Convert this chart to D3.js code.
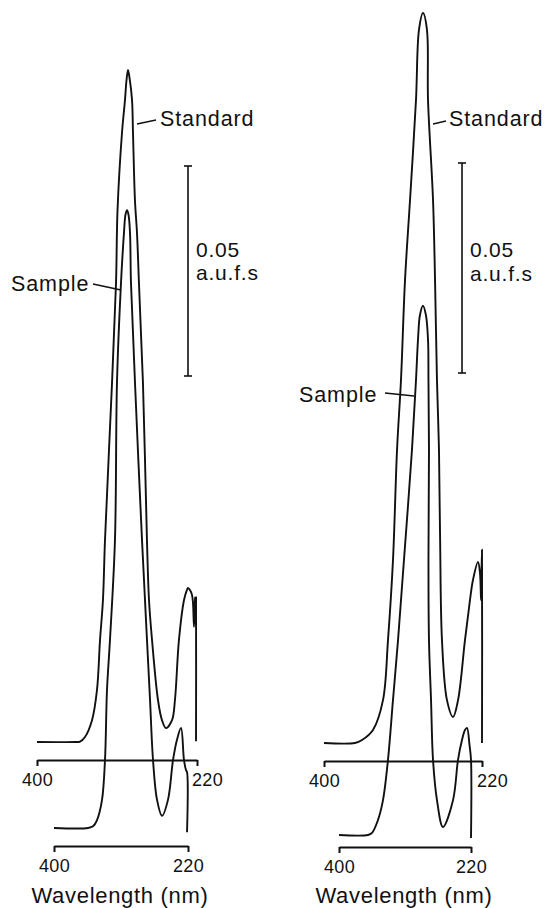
<!DOCTYPE html>
<html><head><meta charset="utf-8">
<script src="https://cdn.jsdelivr.net/npm/d3@7"></script>
<style>body{margin:0;background:#fff}svg{display:block}</style>
</head><body>
<svg id="chart" width="544" height="908"></svg>
<script>
// ---- data: [wavelength (nm), absorbance (AU)] ----
const tickLabels = [400, 220];
const scaleBarValue = 0.05;
const scaleBarLabel = ["0.05", "a.u.f.s"];
const axisTitle = "Wavelength (nm)";
const seriesNames = ["Standard", "Sample"];

const leftStandard = [
 [400,0],[357.2,0],[351.6,0.0001],[346,0.0012],[338.1,0.0052],[332.5,0.0124],[329.1,0.0243],
 [325.8,0.0338],[323.5,0.0481],[315.6,0.0855],[311.1,0.1093],[309.4,0.1267],[304.4,0.145],
 [301,0.1529],[299.3,0.1576],[297.6,0.16],[295.9,0.1581],[293.1,0.1529],[292,0.145],
 [289.8,0.129],[287.5,0.1212],[285.3,0.1093],[280.8,0.0855],[276.3,0.0481],[274,0.0338],
 [270.6,0.0243],[263.9,0.01],[259.4,0.0052],[254.9,0.0033],[248.1,0.0052],[244.8,0.01],
 [240.3,0.0243],[234.6,0.0338],[231.3,0.0362],[230.1,0.0367],[227.9,0.0362],[225.6,0.035],
 [224.5,0.0331],[223.4,0.0274],[222.3,0.0345],[221.7,0.0279],[221.1,0.0345],[221.1,0.0002]
];
const leftSample = [
 [400,0],[354.3,0],[347.6,0.0004],[342.2,0.0019],[335.5,0.0067],[331.5,0.0162],[328.8,0.0329],
 [324.8,0.0448],[318.1,0.0686],[315.4,0.106],[310,0.1298],[306,0.1417],[304,0.146],
 [301.9,0.1471],[299.9,0.146],[297.9,0.1417],[296.6,0.1298],[291.2,0.106],[281.8,0.0686],
 [275.1,0.0448],[271,0.0305],[267,0.0162],[261.6,0.0067],[254.9,0.0029],[246.9,0.0067],
 [240.1,0.0162],[234.8,0.021],[229.4,0.0238],[225.4,0.0162],[222.7,0.0138],[221.3,0.0133],
 [221.3,-0.001]
];
const rightStandard = [
 [400,0],[364.7,0],[356.7,0.0007],[344.2,0.0031],[332.8,0.0102],[327.1,0.0245],[321.4,0.0436],
 [316.8,0.0698],[312.3,0.0864],[307.7,0.1102],[302,0.1293],[295.2,0.1531],[291.8,0.1698],
 [287.2,0.1738],[282.7,0.1698],[281.5,0.1531],[275.8,0.1293],[273.5,0.1102],[271.3,0.0864],
 [269,0.0698],[267.7,0.0483],[265.6,0.0245],[259.9,0.0102],[253,0.0062],[247.3,0.0102],
 [239.4,0.0245],[233.7,0.034],[230.3,0.0388],[224.6,0.0431],[222.3,0.0405],[221.1,0.034],
 [220.6,0.04],[220,0.046],[220,0]
];
const rightSample = [
 [400,0],[360.5,0],[355,0.0005],[346.8,0.0036],[340,0.0083],[333.2,0.0179],[326.4,0.0321],
 [319.5,0.0464],[311.4,0.0655],[300.5,0.0917],[295,0.1083],[292.3,0.1179],[289.6,0.1238],
 [285.5,0.126],[281.5,0.1238],[278.6,0.1179],[278,0.1083],[277.3,0.0917],[278,0.0655],
 [277.3,0.0464],[274.5,0.0321],[271.8,0.0179],[266.4,0.0083],[258.2,0.0019],[244.5,0.0083],
 [237.7,0.0179],[232.3,0.0226],[228.2,0.025],[225.5,0.0255],[222,0.0214],[220,0.0179],
 [220,-0.0007]
];

// ---- layout ----
const FONT = "'Liberation Sans', Arial, Helvetica, sans-serif";
const PX_PER_AU = 4200;
const panels = [
  { traces: [
      { data: leftStandard, x0: 37, x1: 197, base: 742, axisY: 760, hiLabelDx: 10 },
      { data: leftSample,   x0: 54, x1: 188, base: 828, axisY: 846, hiLabelDx: 0 } ],
    bar: { x: 188, bottom: 376 }, barText: { x: 196, y: [257, 280] },
    std: { tx: 160, ty: 126, l: [137,124,156,120] },
    smp: { tx: 11, ty: 291, l: [93,284,121,290] },
    title: { x: 120, y: 903 } },
  { traces: [
      { data: rightStandard, x0: 324, x1: 482, base: 743, axisY: 761, hiLabelDx: 10 },
      { data: rightSample,   x0: 339, x1: 471, base: 835, axisY: 847, hiLabelDx: 0 } ],
    bar: { x: 462, bottom: 373 }, barText: { x: 470, y: [257, 281] },
    std: { tx: 449, ty: 126, l: [433,124,446,121] },
    smp: { tx: 299, ty: 402, l: [385,393,414,396] },
    title: { x: 404, y: 903 } }
];

const svg = d3.select("#chart");
svg.append("rect").attr("width",544).attr("height",908).attr("fill","#fff");

panels.forEach(p => {
  const g = svg.append("g");
  p.traces.forEach(t => {
    const x = d3.scaleLinear().domain([tickLabels[0], tickLabels[1]]).range([t.x0, t.x1]);
    const y = d3.scaleLinear().domain([0, 1]).range([t.base, t.base - PX_PER_AU]);
    const line = d3.line().x(d => x(d[0])).y(d => y(d[1])).curve(d3.curveCatmullRom.alpha(0.5));
    g.append("path").datum(t.data).attr("d", line)
      .attr("fill","none").attr("stroke","#111").attr("stroke-width",1.9)
      .attr("stroke-linejoin","round");
    const ax = g.append("g").attr("transform", `translate(0,${t.axisY})`)
      .call(d3.axisBottom(x).tickValues(tickLabels).tickSize(6).tickSizeOuter(0).tickPadding(7));
    ax.select(".domain").attr("stroke","#111").attr("stroke-width",2);
    ax.selectAll(".tick line").attr("stroke","#111").attr("stroke-width",2);
    ax.selectAll(".tick text").attr("font-family",FONT).attr("font-size",18).attr("fill","#111")
      .attr("letter-spacing","0.3px")
      .attr("dx", d => d === tickLabels[1] ? t.hiLabelDx : 0);
  });
  // scale bar 0.05 AU
  const barScale = d3.scaleLinear().domain([0, 1]).range([p.bar.bottom, p.bar.bottom - PX_PER_AU]);
  const yb0 = barScale(0), yb1 = barScale(scaleBarValue);
  g.append("line").attr("x1",p.bar.x).attr("x2",p.bar.x).attr("y1",yb0).attr("y2",yb1)
    .attr("stroke","#111").attr("stroke-width",1.6);
  [yb0, yb1].forEach(yy => g.append("line").attr("x1",p.bar.x-4).attr("x2",p.bar.x+4)
    .attr("y1",yy).attr("y2",yy).attr("stroke","#111").attr("stroke-width",1.6));
  scaleBarLabel.forEach((s,i) => g.append("text").attr("x",p.barText.x).attr("y",p.barText.y[i])
    .attr("font-family",FONT).attr("font-size",21).attr("letter-spacing","0.8px")
    .attr("fill","#111").text(s));
  // series labels
  [[p.std, seriesNames[0]], [p.smp, seriesNames[1]]].forEach(([o, name]) => {
    g.append("line").attr("x1",o.l[0]).attr("y1",o.l[1]).attr("x2",o.l[2]).attr("y2",o.l[3])
      .attr("stroke","#111").attr("stroke-width",1.5);
    g.append("text").attr("x",o.tx).attr("y",o.ty).attr("font-family",FONT)
      .attr("font-size",21.5).attr("letter-spacing","0.9px").attr("fill","#111").text(name);
  });
  g.append("text").attr("x",p.title.x).attr("y",p.title.y).attr("text-anchor","middle")
    .attr("font-family",FONT).attr("font-size",22).attr("letter-spacing","0.7px")
    .attr("fill","#111").text(axisTitle);
});
</script>
</body></html>
